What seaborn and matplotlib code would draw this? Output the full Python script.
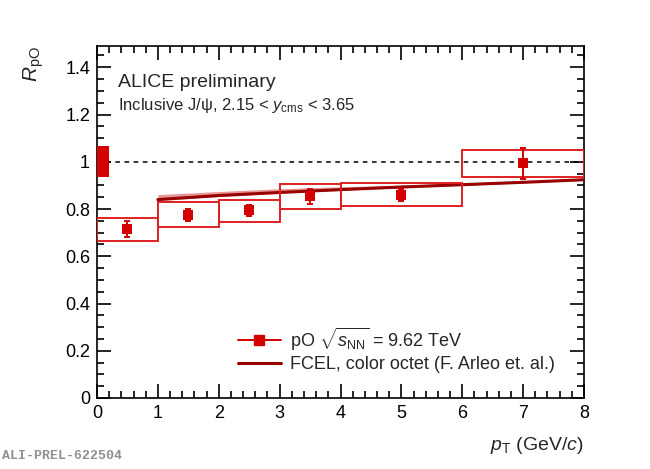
import numpy as np
import pandas as pd
import matplotlib
matplotlib.use('Agg')
import matplotlib.pyplot as plt
import seaborn as sns
from matplotlib.patches import Rectangle
from matplotlib.ticker import MultipleLocator

# Dados
pt_centro = [0.5, 1.5, 2.5, 3.5, 5.0, 7.0]
pt_min = [0, 1, 2, 3, 4, 6]
pt_max = [1, 2, 3, 4, 6, 8]
rpo = [0.715, 0.774, 0.794, 0.853, 0.859, 0.993]
err_stat = [0.033, 0.025, 0.025, 0.033, 0.025, 0.064]
sist_sup = [0.763, 0.829, 0.839, 0.905, 0.910, 1.051]
sist_inf = [0.666, 0.723, 0.746, 0.802, 0.814, 0.934]
incerteza_global = 0.065

# Modelo FCEL
fcel_pt = [1, 2, 3, 4, 5, 6, 7, 8]
fcel_centro = [0.840, 0.857, 0.870, 0.882, 0.893, 0.903, 0.913, 0.924]
fcel_sup = [0.861, 0.874, 0.886, 0.894, 0.901, 0.909, 0.918, 0.928]
fcel_inf = [0.836, 0.853, 0.867, 0.879, 0.890, 0.900, 0.910, 0.921]

sns.set_style('ticks')
plt.rcParams['font.family'] = ['Liberation Sans', 'DejaVu Sans']
plt.rcParams['mathtext.fontset'] = 'custom'
plt.rcParams['mathtext.rm'] = 'Liberation Sans'
plt.rcParams['mathtext.it'] = 'Liberation Sans:italic'
plt.rcParams['mathtext.sf'] = 'Liberation Sans'

vermelho = '#d40000'
vermelho_caixa = '#e02020'
vermelho_escuro = '#990000'

fig = plt.figure(figsize=(6.5, 4.69), dpi=100)
ax = fig.add_axes([0.1492, 0.1514, 0.7493, 0.7505])

# Banda do modelo
ax.fill_between(fcel_pt, fcel_inf, fcel_sup, color='#e06a6a', alpha=0.7, lw=0, zorder=2)
df_fcel = pd.DataFrame({'pt': fcel_pt, 'r': fcel_centro})
sns.lineplot(data=df_fcel, x='pt', y='r', color=vermelho_escuro, lw=2.2, ax=ax, zorder=3)

# Linha em 1
ax.axhline(1.0, color='black', ls=(0, (3, 3)), lw=1.1, zorder=1)

# Incerteza global
ax.add_patch(Rectangle((0, 1 - incerteza_global), 0.2, 2 * incerteza_global,
                       facecolor=vermelho, edgecolor='none', zorder=4))

# Caixas sistemáticas
for x0, x1, lo, hi in zip(pt_min, pt_max, sist_inf, sist_sup):
    ax.add_patch(Rectangle((x0, lo), x1 - x0, hi - lo, facecolor='none',
                           edgecolor=vermelho_caixa, lw=1.4, zorder=4))

# Pontos
ax.errorbar(pt_centro, rpo, yerr=err_stat, fmt='none', ecolor=vermelho, elinewidth=1.4,
            capsize=2, capthick=1.4, zorder=5)
df = pd.DataFrame({'pt': pt_centro, 'r': rpo})
sns.scatterplot(data=df, x='pt', y='r', marker='s', s=55, color=vermelho, edgecolor=vermelho,
                linewidth=0, ax=ax, zorder=6, legend=False)

ax.set_xlim(0, 8)
ax.set_ylim(0, 1.49)
ax.xaxis.set_major_locator(MultipleLocator(1))
ax.xaxis.set_minor_locator(MultipleLocator(0.2))
ax.yaxis.set_minor_locator(MultipleLocator(0.05))
ax.set_yticks([0, 0.2, 0.4, 0.6, 0.8, 1.0, 1.2, 1.4])
ax.set_yticklabels(['0', '0.2', '0.4', '0.6', '0.8', '1', '1.2', '1.4'])
ax.tick_params(which='both', direction='in', top=True, right=True, width=1.2, labelsize=13, colors='black')
ax.tick_params(which='major', length=10, pad=5)
ax.tick_params(which='minor', length=5)
for s in ax.spines.values():
    s.set_linewidth(1.2)
    s.set_color('black')

ax.set_xlabel(r'$p_{\mathrm{T}}$ (GeV/$c$)', fontsize=14)
ax.xaxis.set_label_coords(1.0, -0.105)
ax.xaxis.label.set_horizontalalignment('right')
ax.set_ylabel(r'$R_{\mathrm{pO}}$', fontsize=15)
ax.yaxis.set_label_coords(-0.105, 1.0)
ax.yaxis.label.set_verticalalignment('bottom')
ax.yaxis.label.set_horizontalalignment('right')

ax.text(0.043, 0.895, 'ALICE preliminary', transform=ax.transAxes, fontsize=14, va='center')
ax.text(0.043, 0.83, 'Inclusive J/ψ, 2.15 < $y_{\\mathrm{cms}}$ < 3.65',
        transform=ax.transAxes, fontsize=12, va='center')

# Legenda
h1, = ax.plot([], [], color=vermelho, marker='s', ms=7, lw=1.4)
h2, = ax.plot([], [], color=vermelho_escuro, lw=2.2)
ax.legend([h1, h2], [r'pO $\sqrt{s_{\mathrm{NN}}}$ = 9.62 TeV', 'FCEL, color octet (F. Arleo et. al.)'],
          loc='lower left', bbox_to_anchor=(0.27, 0.045), frameon=False, fontsize=13,
          handlelength=2.4, handletextpad=0.5, labelspacing=0.2, borderpad=0)

fig.text(0.003, 0.015, 'ALI-PREL-622504', fontsize=9.5, color='#909090',
         family='Liberation Mono', weight='bold', va='bottom')

fig.savefig('out.png', dpi=100)
